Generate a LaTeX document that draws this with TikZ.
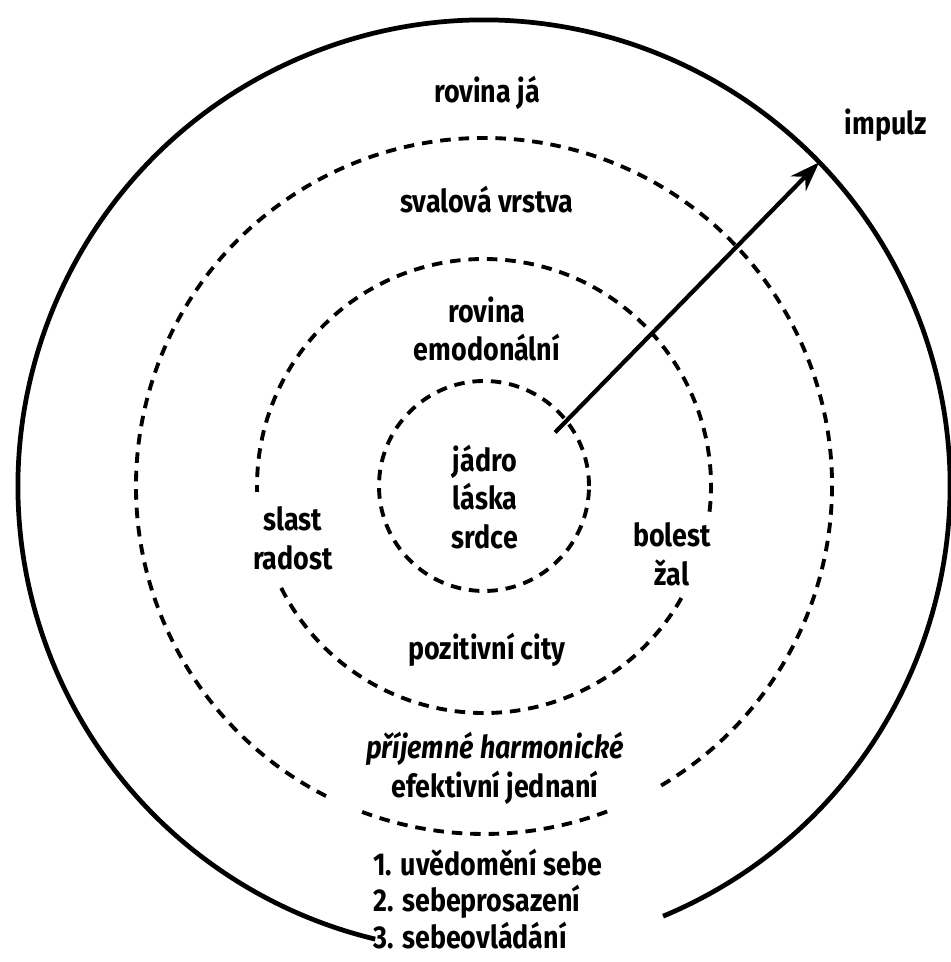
\documentclass[tikz,border=0pt]{standalone}
\usepackage{fontspec}
\setmainfont{Fira Sans}[FakeStretch=0.85]
\usetikzlibrary{arrows.meta}
\tikzset{
    layers/.style={x=0.02cm,y=0.02cm},
    ring/.style={line width=2.7pt},
    dashring/.style={line width=2.2pt,dash pattern=on 6pt off 4.5pt},
    lbl/.style={font=\bfseries\fontsize{18}{22}\selectfont,align=center,inner sep=0pt},
    impulse/.style={line width=2.4pt,-{Stealth[length=17pt,width=12pt]}}
}

\begin{document}
\begin{tikzpicture}[layers]
    \useasboundingbox (0,0) rectangle (950,962);
    \coordinate (c) at (484,476);
    % rings, gaps where the labels sit
    \draw [ring] ([shift={(-67.4:466)}]c) arc[start angle=-67.4,end angle=256.5,radius=466];
    \draw [dashring] ([shift={(-59.4:348)}]c) arc[start angle=-59.4,end angle=244,radius=348];
    \draw [dashring] ([shift={(249.5:348)}]c) arc[start angle=249.5,end angle=291.4,radius=348];
    \draw [dashring] ([shift={(-6.5:227)}]c) arc[start angle=-6.5,end angle=181.5,radius=227];
    \draw [dashring] ([shift={(206.7:227)}]c) arc[start angle=206.7,end angle=331.1,radius=227];
    \draw [dashring] (c) circle[radius=105];
    % labels
    \node [lbl] (ja) at (487,869) {rovina já};
    \node [lbl] (impulz) at (886,837) {impulz};
    \node [lbl] (svaly) at (487,762) {svalová vrstva};
    \node [lbl] (emoce) at (487,633) {rovina\\emodonální};
    \node [lbl] (jadro) at (485,465) {jádro\\láska\\srdce};
    \node [lbl] (slast) at (293,424) {slast\\radost};
    \node [lbl] (bolest) at (672,408) {bolest\\žal};
    \node [lbl] (city) at (487,312) {pozitivní city};
    \node [lbl] (jednani) at (495,194) {\textit{příjemné harmonické}\\efektivní jednaní};
    \node [lbl,align=left,anchor=west,font=\bfseries\fontsize{18}{21}\selectfont] (kroky) at (373,63) {1. uvědomění sebe\\2. sebeprosazení\\3. sebeovládání};
    % impulse
    \coordinate (start) at ([shift={(37:89)}]c);
    \coordinate (tip) at ([shift={(44:466)}]c);
    \draw [impulse] (start) -- (tip);
\end{tikzpicture}
\end{document}
